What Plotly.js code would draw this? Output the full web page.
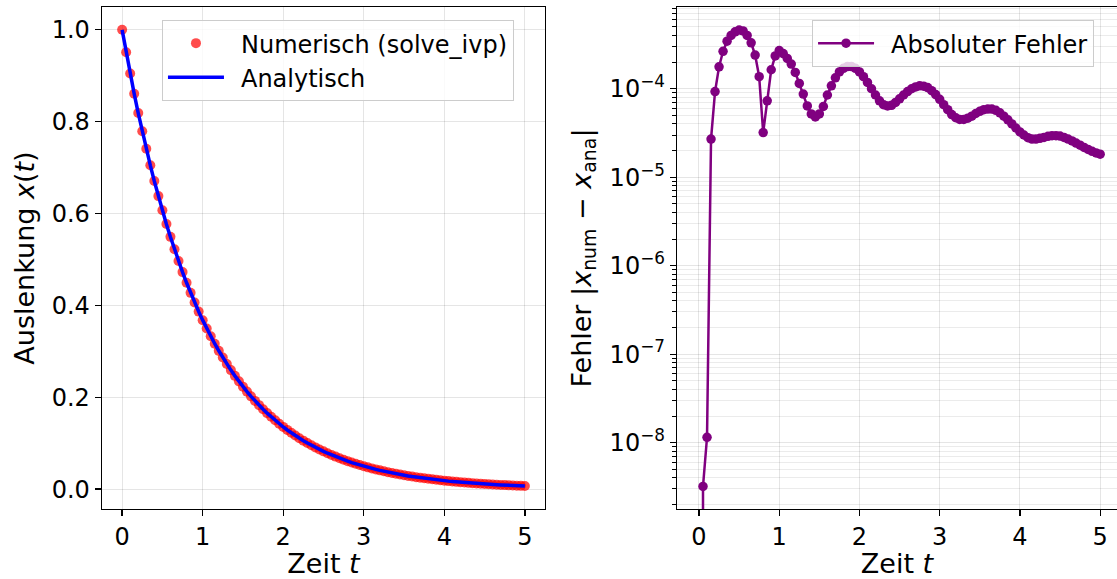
<!DOCTYPE html>
<html>
<head>
<meta charset="utf-8">
<script src="https://cdn.plot.ly/plotly-3.0.1.min.js"></script>
<style>html,body{margin:0;padding:0;background:#fff;}#chart{width:1117px;height:579px;}</style>
</head>
<body>
<div id="chart"></div>
<script>
// Zeitpunkte t (0 ... 5, Schritt 0.05)
const tVals = [0.00,0.05,0.10,0.15,0.20,0.25,0.30,0.35,0.40,0.45,0.50,0.55,0.60,0.65,0.70,0.75,0.80,0.85,0.90,0.95,
1.00,1.05,1.10,1.15,1.20,1.25,1.30,1.35,1.40,1.45,1.50,1.55,1.60,1.65,1.70,1.75,1.80,1.85,1.90,1.95,
2.00,2.05,2.10,2.15,2.20,2.25,2.30,2.35,2.40,2.45,2.50,2.55,2.60,2.65,2.70,2.75,2.80,2.85,2.90,2.95,
3.00,3.05,3.10,3.15,3.20,3.25,3.30,3.35,3.40,3.45,3.50,3.55,3.60,3.65,3.70,3.75,3.80,3.85,3.90,3.95,
4.00,4.05,4.10,4.15,4.20,4.25,4.30,4.35,4.40,4.45,4.50,4.55,4.60,4.65,4.70,4.75,4.80,4.85,4.90,4.95,5.00];

// Numerische Lösung (solve_ivp)
const xNum = [1.0000,0.9512,0.9048,0.8607,0.8188,0.7790,0.7410,0.7050,0.6707,0.6380,0.6070,0.5773,0.5492,0.5223,0.4968,0.4725,0.4493,0.4273,0.4064,0.3865,
0.3676,0.3497,0.3327,0.3164,0.3010,0.2864,0.2724,0.2591,0.2466,0.2346,0.2231,0.2123,0.2020,0.1921,0.1828,0.1739,0.1655,0.1574,0.1498,0.1424,
0.1355,0.1289,0.1226,0.1166,0.1109,0.1055,0.1004,0.0955,0.0908,0.0864,0.0822,0.0782,0.0744,0.0708,0.0673,0.0640,0.0609,0.0579,0.0551,0.0524,
0.0499,0.0474,0.0451,0.0429,0.0408,0.0388,0.0369,0.0351,0.0334,0.0318,0.0302,0.0287,0.0274,0.0260,0.0247,0.0235,0.0224,0.0213,0.0203,0.0193,
0.0183,0.0174,0.0166,0.0158,0.0150,0.0143,0.0136,0.0129,0.0123,0.0117,0.0111,0.0106,0.0101,0.0096,0.0091,0.0087,0.0082,0.0078,0.0074,0.0071,0.0067];

// Analytische Lösung
const xAna = [1.0000,0.9512,0.9048,0.8607,0.8187,0.7788,0.7408,0.7047,0.6703,0.6376,0.6065,0.5769,0.5488,0.5220,0.4966,0.4724,0.4493,0.4274,0.4066,0.3867,
0.3679,0.3499,0.3329,0.3166,0.3012,0.2865,0.2725,0.2592,0.2466,0.2346,0.2231,0.2122,0.2019,0.1920,0.1827,0.1738,0.1653,0.1572,0.1496,0.1423,
0.1353,0.1287,0.1225,0.1165,0.1108,0.1054,0.1003,0.0954,0.0907,0.0863,0.0821,0.0781,0.0743,0.0707,0.0672,0.0639,0.0608,0.0578,0.0550,0.0523,
0.0498,0.0474,0.0450,0.0429,0.0408,0.0388,0.0369,0.0351,0.0334,0.0317,0.0302,0.0287,0.0273,0.0260,0.0247,0.0235,0.0224,0.0213,0.0202,0.0193,
0.0183,0.0174,0.0166,0.0158,0.0150,0.0143,0.0136,0.0129,0.0123,0.0117,0.0111,0.0106,0.0101,0.0096,0.0091,0.0087,0.0082,0.0078,0.0074,0.0071,0.0067];

// Absoluter Fehler |x_num - x_ana|
const errAbs = [0,3.2e-9,1.15e-8,2.7e-5,9.3e-5,1.77e-4,2.65e-4,3.45e-4,4.0e-4,4.4e-4,4.6e-4,4.5e-4,4.0e-4,3.3e-4,2.4e-4,1.37e-4,3.2e-5,7.3e-5,1.64e-4,2.35e-4,
2.7e-4,2.5e-4,2.2e-4,1.9e-4,1.53e-4,1.15e-4,8.7e-5,6.4e-5,5.2e-5,4.8e-5,5.2e-5,6.3e-5,8.5e-5,1.08e-4,1.33e-4,1.55e-4,1.70e-4,1.78e-4,1.78e-4,1.70e-4,
1.55e-4,1.37e-4,1.18e-4,1.0e-4,8.5e-5,7.3e-5,6.6e-5,6.4e-5,6.5e-5,7.0e-5,7.7e-5,8.5e-5,9.3e-5,1.0e-4,1.05e-4,1.08e-4,1.07e-4,1.03e-4,9.5e-5,8.6e-5,
7.6e-5,6.6e-5,5.8e-5,5.1e-5,4.7e-5,4.5e-5,4.5e-5,4.65e-5,4.9e-5,5.25e-5,5.55e-5,5.8e-5,5.9e-5,5.9e-5,5.7e-5,5.35e-5,4.9e-5,4.45e-5,4.0e-5,3.6e-5,
3.25e-5,3.0e-5,2.8e-5,2.7e-5,2.7e-5,2.75e-5,2.82e-5,2.9e-5,2.95e-5,2.95e-5,2.92e-5,2.82e-5,2.7e-5,2.57e-5,2.43e-5,2.3e-5,2.17e-5,2.06e-5,1.96e-5,1.88e-5,1.82e-5];

const yTicksLeft = [0.0,0.2,0.4,0.6,0.8,1.0];
const xTicks = [0,1,2,3,4,5];
const logMajor = [1e-8,1e-7,1e-6,1e-5,1e-4];
const logMajorText = ['10<sup>−8</sup>','10<sup>−7</sup>','10<sup>−6</sup>','10<sup>−5</sup>','10<sup>−4</sup>'];
const logMinor = [];
[-9,-8,-7,-6,-5,-4].forEach(e => { for (let m = 2; m <= 9; m++) logMinor.push(m * Math.pow(10, e)); });

// matplotlib clips non-positive values on log axes to a tiny value
const errPlot = errAbs.map(v => v > 0 ? v : 1e-300);

const FONT = 'DejaVu Sans, Verdana, sans-serif';
const GRID = 'rgba(0,0,0,0.1)';
const TICK = 24, TITLE = 27, LEG = 24;
const PAD = '\u2002';

const traces = [
  {x: tVals, y: xNum, type: 'scatter', mode: 'markers', name: PAD + 'Numerisch (solve_ivp)',
   marker: {color: 'rgba(255,0,0,0.7)', size: 10}, xaxis: 'x', yaxis: 'y', legend: 'legend'},
  {x: tVals, y: xAna, type: 'scatter', mode: 'lines', name: PAD + 'Analytisch',
   line: {color: '#0000ff', width: 3.5}, xaxis: 'x', yaxis: 'y', legend: 'legend'},
  {x: tVals, y: errPlot, type: 'scatter', mode: 'lines+markers', name: PAD + 'Absoluter Fehler',
   line: {color: '#800080', width: 2.5}, marker: {color: '#800080', size: 9.5},
   xaxis: 'x2', yaxis: 'y2', legend: 'legend2', cliponaxis: true}
];

const axCommon = {
  showline: true, linecolor: '#000', linewidth: 1.3, ticks: 'outside', ticklen: 6, tickwidth: 1.3,
  tickcolor: '#000', showgrid: true, gridcolor: GRID, gridwidth: 1, zeroline: false,
  tickfont: {family: FONT, size: TICK, color: '#000'}, automargin: false
};

const layout = {
  width: 1117, height: 579,
  margin: {l: 0, r: 0, t: 7, b: 70},
  paper_bgcolor: '#fff', plot_bgcolor: '#fff',
  font: {family: FONT, color: '#000'},
  xaxis: Object.assign({}, axCommon, {
    domain: [0.0913, 0.4879], range: [-0.25, 5.25], tickvals: xTicks, ticktext: xTicks.map(String), mirror: true,
    title: {text: 'Zeit <i>t</i>', font: {family: FONT, size: TITLE}, standoff: 10}, anchor: 'y'
  }),
  yaxis: Object.assign({}, axCommon, {
    domain: [0, 1], range: [-0.0433, 1.0497], tickvals: yTicksLeft, ticktext: yTicksLeft.map(v => v.toFixed(1)), mirror: true,
    title: {text: 'Auslenkung <i>x</i>(<i>t</i>)', font: {family: FONT, size: TITLE}, standoff: 9}, anchor: 'x'
  }),
  xaxis2: Object.assign({}, axCommon, {
    domain: [0.6061, 1], range: [-0.274, 5.21], tickvals: xTicks, ticktext: xTicks.map(String), mirror: true,
    title: {text: 'Zeit <i>t</i>', font: {family: FONT, size: TITLE}, standoff: 10}, anchor: 'y2'
  }),
  yaxis2: Object.assign({}, axCommon, {
    type: 'log', domain: [0, 1], range: [-8.75, -3.076], tickvals: logMajor, ticktext: logMajorText,
    minor: {tickmode: 'array', tickvals: logMinor, ticks: 'outside', ticklen: 3.5, tickwidth: 1, tickcolor: '#000', showgrid: true, gridcolor: 'rgba(0,0,0,0.08)', gridwidth: 1},
    title: {text: 'Fehler |<i>x</i><sub>num</sub> − <i>x</i><sub>ana</sub>|', font: {family: FONT, size: TITLE}, standoff: 10}, anchor: 'x2'
  }),
  legend: {
    x: 0.145, y: 0.974, xanchor: 'left', yanchor: 'top', bgcolor: 'rgba(255,255,255,0.8)',
    bordercolor: '#cccccc', borderwidth: 1, font: {family: FONT, size: LEG, color: '#000'}, itemwidth: 56
  },
  legend2: {
    x: 0.727, y: 0.974, xanchor: 'left', yanchor: 'top', bgcolor: 'rgba(255,255,255,0.8)',
    bordercolor: '#cccccc', borderwidth: 1, font: {family: FONT, size: LEG, color: '#000'}, itemwidth: 56
  },
  showlegend: true
};

Plotly.newPlot('chart', traces, layout, {displayModeBar: false, staticPlot: true});
</script>
</body>
</html>
